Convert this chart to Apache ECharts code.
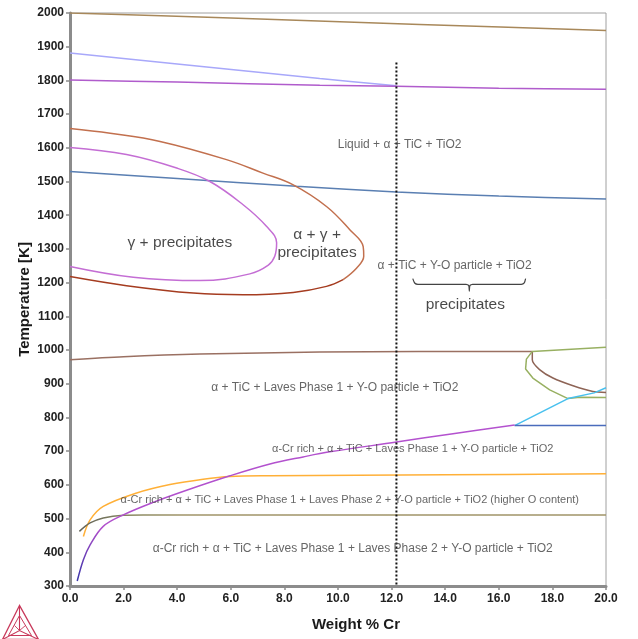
<!DOCTYPE html>
<html><head><meta charset="utf-8">
<script src="https://cdn.jsdelivr.net/npm/echarts@6/dist/echarts.min.js"></script>
<style>html,body{margin:0;padding:0;background:#fff}#c{width:638px;height:639px}</style>
</head><body><div id="c"></div>
<script>
// ---- data (Weight % Cr, Temperature K) ----
const topLine = [[0,2000],[6,1985],[13.05,1966],[20,1948]];
const lavenderLine = [[0,1881],[4,1849],[9.32,1806],[12.18,1784]];
const purpleTop = [[0,1801],[4,1795],[9.32,1786],[12.18,1783],[16,1777],[20,1774]];
const blueLine = [[0,1530],[4,1509],[8.45,1486],[12.18,1469],[16,1457],[20,1448]];
const alphaGammaTop = [[0,1657],[1.5,1643],[3.36,1619],[5.84,1565],[7.2,1525],[8.33,1490],[9.57,1426],[10.44,1357],[10.94,1307],[10.96,1278],[10.69,1243],[10.19,1209]];
const alphaGammaBottom = [[10.19,1209],[9.57,1189],[8.33,1171],[6.46,1164],[4.6,1169],[2.11,1191],[0,1218]];
const gammaLoop = [[0,1601],[2.11,1580],[3.98,1540],[5.22,1500],[6.46,1431],[7.33,1367],[7.71,1318],[7.64,1278],[7.4,1252],[6.71,1226],[4.85,1206],[2.36,1216],[0,1248]];
const lavesTop = [[0,971],[2,980],[4.85,988],[9.32,994],[13,995.5],[17.25,996]];
const lavesDrop = [[17.25,996],[17.25,971],[17.52,942],[18.02,917],[18.77,894],[19.51,877],[20,874]];
const greenLine = [[20,1008],[17.25,996],[17.03,973],[17.0,944],[17.27,917],[17.9,882],[18.58,856],[19.02,860],[20,859]];
const cyanLine = [[16.59,776],[18.58,856],[19.56,873],[20,888]];
const darkBlueLine = [[16.59,776],[20,776]];
const alphaCrCurve = [[0.27,315],[0.5,378],[0.75,422],[1.24,477],[1.99,511],[3.1,548],[4.35,584],[5.97,627],[7.46,662],[8.7,683],[9.69,698],[12.18,727],[14.29,752],[16.59,778]];
const orangeLine = [[0.5,447],[0.75,496],[1.24,536],[2.49,576],[3.73,601],[4.97,617],[5.97,625],[7.46,627],[14,630],[20,633]];
const oliveLine = [[0.35,462],[0.75,487],[1.24,502],[1.99,510],[2.73,511],[20,511]];
const alloyLine = [[12.18,1853],[12.18,300]];
const brace = [[12.79,1212],[12.86,1199],[12.98,1195],[14.78,1195],[14.88,1191],[14.9,1175],[14.92,1191],[15.02,1195],[16.84,1195],[16.95,1199],[17.0,1212]];

const regionLabels = ['Liquid + α + TiC + TiO2','γ + precipitates','α + γ +\nprecipitates','α + TiC + Y-O particle + TiO2','precipitates','α + TiC + Laves Phase 1 + Y-O particle + TiO2','α-Cr rich + α + TiC + Laves Phase 1 + Y-O particle + TiO2','α-Cr rich + α + TiC + Laves Phase 1 + Laves Phase 2 + Y-O particle + TiO2 (higher O content)','α-Cr rich + α + TiC + Laves Phase 1 + Laves Phase 2 + Y-O particle + TiO2'];
const labelX = [12.3, 4.1, 9.22, 14.35, 14.75, 9.88, 12.79, 10.44, 10.55];
const labelT = [1609, 1318, 1316, 1250, 1134, 889, 708, 556, 410];
const labelBig = [false, true, true, false, true, false, false, false, false];
const labelSize = [12, 15.5, 15.5, 12, 15.5, 12, 11, 11, 12];

const chart = echarts.init(document.getElementById('c'), null, {renderer:'canvas'});
function ln(data, color, opts) {
  return Object.assign({type:'line', data:data, showSymbol:false, symbol:'none', silent:true,
    lineStyle:{color:color, width:1.5}, smooth:false, z:3, animation:false}, opts||{});
}
const purpleGrad = new echarts.graphic.LinearGradient(0,0,0,1,[
  {offset:0,color:'#b452cf'},{offset:0.66,color:'#b050cc'},{offset:0.82,color:'#7040b8'},{offset:1,color:'#3434a8'}]);
const oliveGrad = new echarts.graphic.LinearGradient(0,0,1,0,[
  {offset:0,color:'#606058'},{offset:0.1,color:'#8a8a62'},{offset:0.2,color:'#a09468'},{offset:1,color:'#a09468'}]);

const labelData = regionLabels.map((t,i)=>({
  value:[labelX[i], labelT[i]],
  label:{show:true, position:'inside', formatter:t, fontFamily:'Liberation Sans, Arial, sans-serif',
    fontSize:labelSize[i], color: labelBig[i] ? '#1a1a1a' : '#404040', lineHeight: labelBig[i]?18:13, align:'center', verticalAlign:'middle'}
}));

const option = {
  animation:false,
  backgroundColor:'#fff',
  grid:{left:70, right:32, top:13, bottom:53, show:true, borderColor:'#a0a0a0', borderWidth:1, containLabel:false},
  xAxis:{type:'value', min:0, max:20, interval:2,
    name:'Weight % Cr', nameLocation:'middle', nameGap:31, nameMoveOverlap:false,
    nameTextStyle:{fontFamily:'Liberation Sans, Arial, sans-serif', fontWeight:'bold', fontSize:15, color:'#1a1a1a', padding:[0,0,0,36]},
    axisLine:{show:true, onZero:false, lineStyle:{color:'#8c8c8c', width:3}},
    axisTick:{show:true, length:4, lineStyle:{color:'#8c8c8c', width:1.5}},
    axisLabel:{margin:7, formatter:v=>v.toFixed(1), fontFamily:'Liberation Sans, Arial, sans-serif', fontWeight:'bold', fontSize:12, color:'#222'},
    splitLine:{show:false}},
  yAxis:{type:'value', min:300, max:2000, interval:100,
    name:'Temperature [K]', nameLocation:'middle', nameGap:38, nameMoveOverlap:false,
    nameTextStyle:{fontFamily:'Liberation Sans, Arial, sans-serif', fontWeight:'bold', fontSize:15, color:'#1a1a1a'},
    axisLine:{show:true, onZero:false, lineStyle:{color:'#8c8c8c', width:3}},
    axisTick:{show:true, length:4, lineStyle:{color:'#8c8c8c', width:1.5}},
    axisLabel:{margin:6, formatter:v=>String(v), fontFamily:'Liberation Sans, Arial, sans-serif', fontWeight:'bold', fontSize:12, color:'#222'},
    splitLine:{show:false}},
  series:[
    ln(topLine, '#a8885a', {smooth:0.3}),
    ln(lavenderLine, '#a8a8fa', {smooth:0.3}),
    ln(purpleTop, '#b05ccc', {smooth:0.3}),
    ln(blueLine, '#5a7fb2', {smooth:0.3}),
    ln(alphaGammaTop, '#c2704e', {smooth:0.4}),
    ln(alphaGammaBottom, '#a53c20', {smooth:0.4}),
    ln(gammaLoop, '#c46ed4', {smooth:0.4}),
    ln(lavesTop, '#9a7062', {smooth:0.3}),
    ln(lavesDrop, '#8e6456', {smooth:0.25}),
    ln(greenLine, '#98b062', {}),
    ln(cyanLine, '#48c0ee', {}),
    ln(darkBlueLine, '#4a6cbc', {}),
    ln(orangeLine, '#ffb038', {smooth:0.35}),
    ln(oliveLine, oliveGrad, {smooth:0.35}),
    ln(alphaCrCurve, purpleGrad, {smooth:0.35, z:4}),
    ln(alloyLine, '#111', {lineStyle:{color:'#111', width:2, type:[2,2]}, z:5}),
    ln(brace, '#444', {lineStyle:{color:'#444', width:1.2}, smooth:0.2}),
    {type:'scatter', data:labelData, symbolSize:0, silent:true, z:10, animation:false}
  ],
  graphic:[{
    type:'group', left:0, top:603, silent:true,
    children:[
      {type:'polygon', shape:{points:[[17,1],[0,35],[36,35]]}, style:{fill:null, stroke:'#c8385a', lineWidth:1.3}},
      {type:'polyline', shape:{points:[[17,1],[17,26]]}, style:{stroke:'#c8385a', lineWidth:1.1}},
      {type:'polyline', shape:{points:[[0,35],[17,26],[36,35]]}, style:{stroke:'#c8385a', lineWidth:1.1}},
      {type:'polygon', shape:{points:[[17,11],[6,31],[29,31]]}, style:{fill:null, stroke:'#c8385a', lineWidth:1}},
      {type:'polyline', shape:{points:[[12,21],[17,26],[23,21]]}, style:{stroke:'#c8385a', lineWidth:0.9}}
    ]
  }]
};
chart.setOption(option);
</script></body></html>
